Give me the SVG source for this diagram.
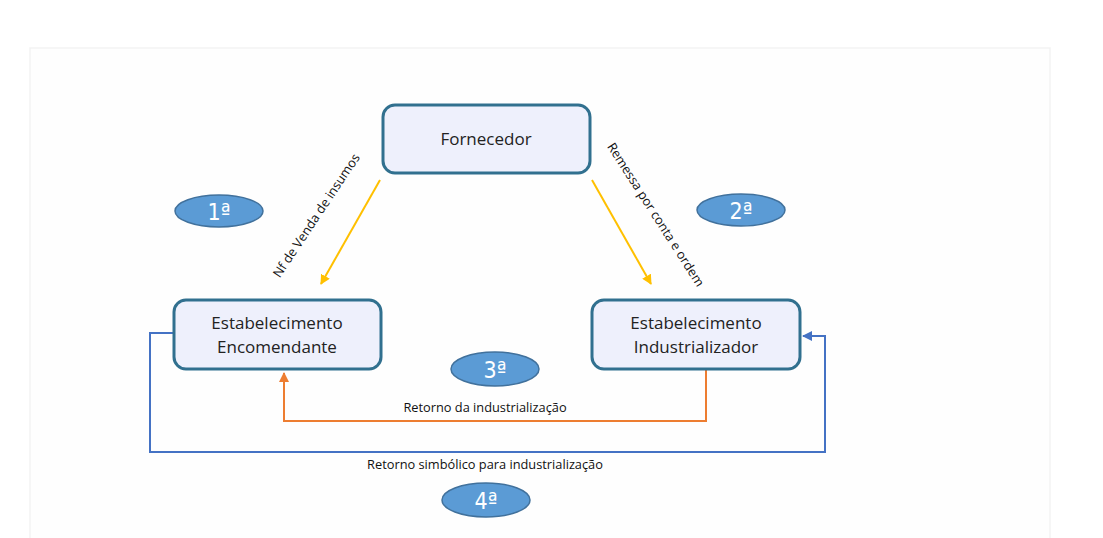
<svg xmlns="http://www.w3.org/2000/svg" width="1103" height="538" viewBox="0 0 1103 538">
<defs>
<style>
.node{fill:#eef0fc;stroke:#31708f;stroke-width:3}
.nt{font-family:"Open Sans","Liberation Sans",sans-serif;font-size:17px;fill:#222;text-anchor:middle}
.lbl{font-family:"Open Sans","Liberation Sans",sans-serif;font-size:12.8px;fill:#111;text-anchor:middle}
.ov{fill:#5b9bd5;stroke:#41719c;stroke-width:1.5}
.ot{font-family:"DejaVu Sans Condensed","DejaVu Sans",sans-serif;font-size:23px;fill:#fff;text-anchor:middle}
.y{stroke:#ffc000;stroke-width:2;fill:none}
.o{stroke:#ed7d31;stroke-width:2;fill:none}
.b{stroke:#4472c4;stroke-width:2;fill:none}
</style>
<marker id="ay" viewBox="0 0 10 10" refX="9" refY="5" markerWidth="5" markerHeight="5" orient="auto"><path d="M0,0L10,5L0,10z" fill="#ffc000"/></marker>
<marker id="ao" viewBox="0 0 10 10" refX="9" refY="5" markerWidth="5" markerHeight="5" orient="auto"><path d="M0,0L10,5L0,10z" fill="#ed7d31"/></marker>
<marker id="ab" viewBox="0 0 10 10" refX="9" refY="5" markerWidth="5" markerHeight="5" orient="auto"><path d="M0,0L10,5L0,10z" fill="#4472c4"/></marker>
</defs>
<rect x="0" y="0" width="1103" height="538" fill="#fff"/>
<rect x="30" y="48" width="1020" height="495" fill="#fefefe" stroke="#f3f3f3" stroke-width="1.5"/>
<g id="connectors">
<line class="y" x1="380" y1="180" x2="321" y2="284" marker-end="url(#ay)"/>
<line class="y" x1="592" y1="180" x2="651" y2="284" marker-end="url(#ay)"/>
<polyline class="o" points="706,370 706,421 284,421 284,373" marker-end="url(#ao)"/>
<polyline class="b" points="174,333 150,333 150,452 825,452 825,336 803,336" marker-end="url(#ab)"/>
<text class="lbl" transform="translate(320,218) rotate(-56.4)">Nf de Venda de insumos</text>
<text class="lbl" transform="translate(652,217) rotate(57.3)">Remessa por conta e ordem</text>
<text class="lbl" x="485" y="412">Retorno da industrialização</text>
<text class="lbl" x="485" y="469">Retorno simbólico para industrialização</text>
</g>
<g id="fornecedor">
<rect class="node" x="383" y="105" width="207" height="68" rx="12"/>
<text class="nt" x="486" y="145">Fornecedor</text>
</g>
<g id="encomendante">
<rect class="node" x="174" y="300" width="207" height="69" rx="12"/>
<text class="nt" x="277" y="329">Estabelecimento</text>
<text class="nt" x="277" y="353">Encomendante</text>
</g>
<g id="industrializador">
<rect class="node" x="592" y="300" width="208" height="69" rx="12"/>
<text class="nt" x="696" y="329">Estabelecimento</text>
<text class="nt" x="696" y="353">Industrializador</text>
</g>
<g id="step1"><ellipse class="ov" cx="219" cy="211" rx="44" ry="16"/><text class="ot" x="219" y="220">1ª</text></g>
<g id="step2"><ellipse class="ov" cx="741" cy="210" rx="44" ry="16"/><text class="ot" x="741" y="219">2ª</text></g>
<g id="step3"><ellipse class="ov" cx="495" cy="369" rx="44" ry="17"/><text class="ot" x="495" y="378">3ª</text></g>
<g id="step4"><ellipse class="ov" cx="486" cy="500" rx="44" ry="17"/><text class="ot" x="486" y="509">4ª</text></g>
</svg>
